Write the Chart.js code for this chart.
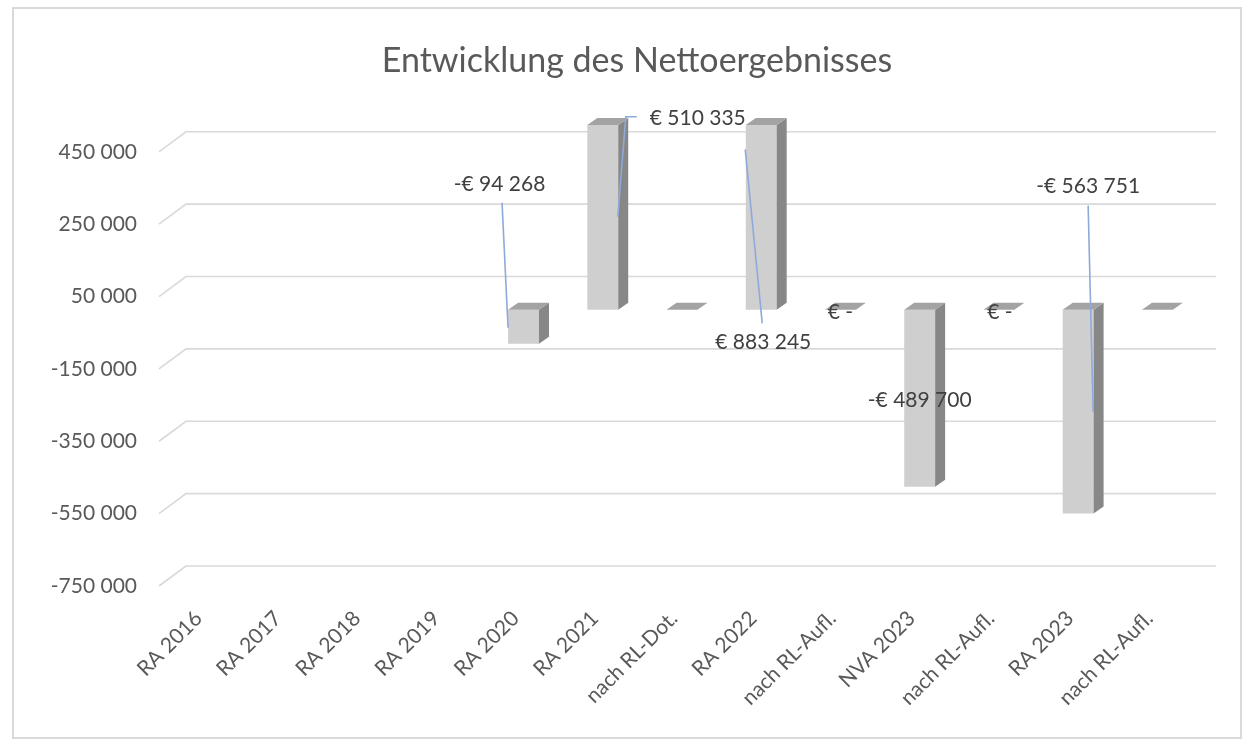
<!DOCTYPE html>
<html>
<head>
<meta charset="utf-8">
<script src="https://cdn.jsdelivr.net/npm/chart.js@4.4.1/dist/chart.umd.min.js"></script>
<style>
  html, body { margin: 0; padding: 0; background: #fff; }
  #wrap { position: relative; width: 1252px; height: 739px; }
  #frame { position: absolute; left: 12px; top: 7px; width: 1226px; height: 728px; border: 2px solid #d9d9d9; }
  canvas { position: absolute; left: 0; top: 0; }
</style>
</head>
<body>
<div id="wrap">
  <div id="frame"></div>
  <canvas id="chart" width="1252" height="739"></canvas>
</div>
<script>
// Entwicklung des Nettoergebnisses – 3D-Säulen (Excel-Look) mit Chart.js nachgebaut

const categories = ['RA 2016', 'RA 2017', 'RA 2018', 'RA 2019', 'RA 2020', 'RA 2021', 'nach RL-Dot.',
  'RA 2022', 'nach RL-Aufl.', 'NVA 2023', 'nach RL-Aufl.', 'RA 2023', 'nach RL-Aufl.'];

const values = [null, null, null, null, -94268, 510335, 0, 510000, 0, -489700, 0, -563751, 0];

// Beschriftungen wie im Original (teilweise verschoben)
const dataLabels = ['', '', '', '', '-€ 94 268', '€ 510 335', '', '€ 883 245', '€ -', '-€ 489 700', '€ -', '-€ 563 751', ''];

const yTicks = [-750000, -550000, -350000, -150000, 50000, 250000, 450000];

// ---- look ----
const FONT = 'Lato, "Open Sans", sans-serif';
const TICK_COLOR = '#595959';
const LABEL_COLOR = '#404040';
const GRID_COLOR = '#d9d9d9';
const LEADER_COLOR = '#8eaadb';
const FRONT = '#d0cfd0';
const SIDE = '#878787';
const TOP = '#a3a3a3';
const WALL = { dx: 27, dy: -20 };   // Rückwand gegenüber Vorderkante
const SHIFT = { dx: 8, dy: -5 };    // Lage der Säulen in der Tiefe
const DEPTH = { dx: 10, dy: -7 };   // Säulentiefe

// Label-Versatz relativ zur Säulenmitte, Führungslinien ebenfalls relativ dazu
const placement = {
  4: { off: [-24, -142], leader: [[-21.5, -124], [-15.5, 1]] },
  5: { off: [95, -99.5], leader: [[34, -100.5], [23, -100.5], [15, -0.5]] },
  7: { off: [2, 125], leader: [[1, 106], [-16, -68]] },
  8: { off: [0, 3] },
  9: { off: [0, 2] },
  10: { off: [1, 3] },
  11: { off: [10, -225], leader: [[10, -206], [15, 0]] },
};

function fmt(v) {
  const s = String(Math.abs(v)).replace(/\B(?=(\d{3})+(?!\d))/g, ' ');
  return (v < 0 ? '-' : '') + s;
}

function poly(ctx, pts, color) {
  ctx.beginPath();
  ctx.moveTo(pts[0][0], pts[0][1]);
  for (let i = 1; i < pts.length; i++) ctx.lineTo(pts[i][0], pts[i][1]);
  ctx.closePath();
  ctx.fillStyle = color;
  ctx.fill();
}

// Gitter auf der Rückwand + Schräglinie zur Achse
const wallGrid = {
  id: 'wallGrid',
  beforeDatasetsDraw(chart) {
    const { ctx, chartArea, scales } = chart;
    ctx.save();
    ctx.strokeStyle = GRID_COLOR;
    ctx.lineWidth = 1.6;
    for (const v of yTicks) {
      const y = scales.y.getPixelForValue(v);
      ctx.beginPath();
      ctx.moveTo(chartArea.left, y);
      ctx.lineTo(chartArea.left + WALL.dx, y + WALL.dy);
      ctx.lineTo(chartArea.right + WALL.dx, y + WALL.dy);
      ctx.stroke();
    }
    ctx.restore();
    // Säulen in die Tiefe versetzen
    ctx.save();
    ctx.translate(SHIFT.dx, SHIFT.dy);
  },
  afterDatasetsDraw(chart) {
    const { ctx } = chart;
    const meta = chart.getDatasetMeta(0);
    meta.data.forEach((el, i) => {
      if (values[i] === null) return;
      const { x, y, base, width } = el.getProps(['x', 'y', 'base', 'width'], true);
      const l = x - width / 2, r = x + width / 2;
      const top = Math.min(y, base), bot = Math.max(y, base);
      // Seite
      if (bot - top > 0.5) {
        poly(ctx, [[r, top], [r + DEPTH.dx, top + DEPTH.dy], [r + DEPTH.dx, bot + DEPTH.dy], [r, bot]], SIDE);
      }
      // Deckel
      poly(ctx, [[l, top], [l + DEPTH.dx, top + DEPTH.dy], [r + DEPTH.dx, top + DEPTH.dy], [r, top]], TOP);
    });
    ctx.restore();

    // Datenbeschriftungen + Führungslinien
    ctx.save();
    ctx.font = '21px ' + FONT;
    ctx.fillStyle = LABEL_COLOR;
    ctx.textAlign = 'center';
    ctx.textBaseline = 'middle';
    meta.data.forEach((el, i) => {
      const p = placement[i];
      if (!p || !dataLabels[i]) return;
      const { x, y, base } = el.getProps(['x', 'y', 'base'], true);
      const cx = x + SHIFT.dx, cy = (y + base) / 2 + SHIFT.dy;
      if (p.leader) {
        ctx.strokeStyle = LEADER_COLOR;
        ctx.lineWidth = 1.6;
        ctx.beginPath();
        p.leader.forEach(([dx, dy], k) => {
          if (k === 0) ctx.moveTo(cx + dx, cy + dy); else ctx.lineTo(cx + dx, cy + dy);
        });
        ctx.stroke();
      }
      ctx.fillText(dataLabels[i], cx + p.off[0], cy + p.off[1]);
    });
    ctx.restore();
  },
};

new Chart(document.getElementById('chart'), {
  type: 'bar',
  data: {
    labels: categories,
    datasets: [{
      data: values,
      backgroundColor: FRONT,
      borderWidth: 0,
      categoryPercentage: 1,
      barPercentage: 0.39,
      clip: false,
    }],
  },
  options: {
    responsive: false,
    devicePixelRatio: 1,
    animation: false,
    layout: { padding: { left: 22, right: 0, top: 0, bottom: 0 } },
    plugins: {
      legend: { display: false },
      tooltip: { enabled: false },
      title: {
        display: true,
        text: 'Entwicklung des Nettoergebnisses',
        color: TICK_COLOR,
        font: { family: FONT, size: 34, weight: 'normal' },
        padding: { top: 41, bottom: 70 },
      },
    },
    scales: {
      x: {
        grid: { display: false },
        border: { display: false },
        ticks: {
          autoSkip: false,
          maxRotation: 45,
          minRotation: 45,
          padding: 12,
          color: TICK_COLOR,
          font: { family: FONT, size: 21 },
        },
        afterFit(scale) { scale.height = 153; },
      },
      y: {
        min: -750000,
        max: 450000,
        grid: { display: false },
        border: { display: false },
        afterBuildTicks(scale) { scale.ticks = yTicks.map(v => ({ value: v })); },
        ticks: {
          padding: 14,
          color: TICK_COLOR,
          font: { family: FONT, size: 21 },
          callback: (v) => fmt(v),
        },
        afterFit(scale) { scale.width = 137; },
      },
      // leere Achse rechts, hält Platz für die Tiefenwirkung frei
      yRight: {
        position: 'right',
        grid: { display: false },
        border: { display: false },
        ticks: { display: false },
        afterFit(scale) { scale.width = 63; },
      },
    },
  },
  plugins: [wallGrid],
});
</script>
</body>
</html>
